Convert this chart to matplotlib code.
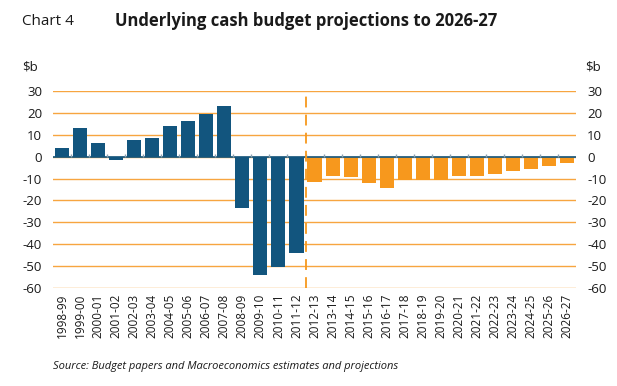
import matplotlib
matplotlib.use("Agg")
import matplotlib.pyplot as plt

years = ["1998-99", "1999-00", "2000-01", "2001-02", "2002-03", "2003-04", "2004-05",
         "2005-06", "2006-07", "2007-08", "2008-09", "2009-10", "2010-11", "2011-12",
         "2012-13", "2013-14", "2014-15", "2015-16", "2016-17", "2017-18", "2018-19",
         "2019-20", "2020-21", "2021-22", "2022-23", "2023-24", "2024-25", "2025-26",
         "2026-27"]
actual = [3.8, 12.9, 6.1, -1.5, 7.5, 8.4, 13.9, 16.2, 19.4, 23.0, -23.5, -54.2, -50.5, -44.1]
projected = [-11.6, -8.6, -9.5, -12.1, -14.4, -10.7, -10.7, -10.7, -9.0, -9.0, -8.1,
             -6.6, -5.7, -4.3, -2.9]
yticks = [30, 20, 10, 0, -10, -20, -30, -40, -50, -60]

BLUE = "#12557e"
ORANGE = "#f7981d"
GRID = "#f7a540"
TEXT = "#1a1a1a"

plt.rcParams["font.family"] = ["Open Sans", "DejaVu Sans"]

fig = plt.figure(figsize=(6.17, 3.86), dpi=100)
ax = fig.add_axes([0.086, 0.254, 0.8475, 0.51])

n_act = len(actual)
x_act = list(range(n_act))
x_proj = list(range(n_act, n_act + len(projected)))

for y in yticks:
    ax.axhline(y, color=GRID, lw=1.0, zorder=0)

ax.bar(x_act, actual, width=0.78, color=BLUE, zorder=2)
ax.bar(x_proj, projected, width=0.78, color=ORANGE, zorder=2)

ax.axhline(0, color=BLUE, lw=1.2, zorder=3)
bounds = [i + 0.5 for i in range(len(years) - 1)]
ax.vlines(bounds, 0, 1.3, color="#8aa0b0", lw=1.0, zorder=3)
ax.axvline(n_act - 0.5, color=ORANGE, lw=1.3, ls=(0, (6, 4)), zorder=4)

ax.set_xlim(-0.5, len(years) - 0.5)
ax.set_ylim(-60, 30)
ax.set_yticks(yticks)
ax.set_yticklabels([str(v) for v in yticks])
ax.tick_params(axis="y", length=0, labelsize=9.5, colors=TEXT, pad=8,
               labelright=True, right=False)
ax.set_xticks(range(len(years)))
ax.set_xticklabels(years, rotation=90, fontsize=8.5, color=TEXT)
ax.tick_params(axis="x", length=0, pad=4)
for s in ax.spines.values():
    s.set_visible(False)

fig.text(0.036, 0.945, "Chart 4", fontsize=11, color=TEXT, va="center")
fig.text(0.186, 0.945, "Underlying cash budget projections to 2026-27", fontsize=12,
         fontweight="bold", color=TEXT, va="center")
fig.text(0.036, 0.826, "$b", fontsize=9.5, color=TEXT, va="center")
fig.text(0.948, 0.826, "$b", fontsize=9.5, color=TEXT, va="center")
fig.text(0.086, 0.05, "Source: Budget papers and Macroeconomics estimates and projections",
         fontsize=8, style="italic", color=TEXT, va="center")

fig.savefig("out.png", dpi=100)
